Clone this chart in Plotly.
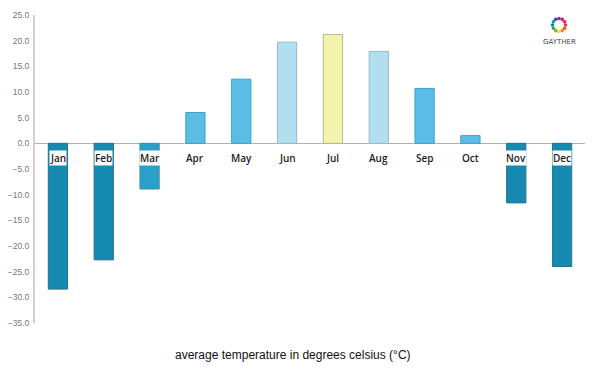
import math
import plotly.graph_objects as go

months = ["Jan", "Feb", "Mar", "Apr", "May", "Jun", "Jul", "Aug", "Sep", "Oct", "Nov", "Dec"]
temps = [-28.4, -22.7, -8.9, 6.0, 12.5, 19.7, 21.2, 17.9, 10.7, 1.5, -11.6, -24.0]
bar_colors = ["#1689b0", "#1689b0", "#2a9fc9", "#5bbde6", "#5bbde6", "#b2dff0",
              "#f2f5a9", "#b2dff0", "#5bbde6", "#5bbde6", "#1689b0", "#1689b0"]
line_colors = ["#2a6f8a", "#2a6f8a", "#3a8fb0", "#3aa0cc", "#3aa0cc", "#9ab8c8",
               "#b8b89a", "#9ab8c8", "#3aa0cc", "#3aa0cc", "#2a6f8a", "#2a6f8a"]
y_ticks = [25, 20, 15, 10, 5, 0, -5, -10, -15, -20, -25, -30, -35]
x_title = "average temperature in degrees celsius (°C)"

W, H = 600, 375
OFF = 8  # body margin of the html page
# desired plot area in screen pixels: x 35..585, y 15..323
sl, sr, st, sb = 35, 585, 15, 323
l, t = sl - OFF, st - OFF
r = W - (sr - OFF)
b = H - (sb - OFF)
pw, ph = W - l - r, H - t - b


def px_to_paper(px, py):
    # px, py in screen coordinates
    return (px - OFF - l) / pw, (H - b - (py - OFF)) / ph


fig = go.Figure()
fig.add_trace(go.Bar(
    x=months, y=temps,
    marker=dict(color=bar_colors, line=dict(color=line_colors, width=1)),
    width=0.42, hoverinfo="x+y",
))

annotations = []
for m, v in zip(months, temps):
    annotations.append(dict(
        x=m, y=0, xref="x", yref="y", text=m, showarrow=False,
        xanchor="center", yanchor="top", yshift=-7,
        font=dict(family="Open Sans", size=10, color="#222222", weight=600),
        bgcolor="white" if v < 0 else "rgba(0,0,0,0)",
        borderpad=0,
    ))

ax, ay = px_to_paper(293, 355)
annotations.append(dict(
    x=ax, y=ay, xref="paper", yref="paper", text=x_title, showarrow=False,
    xanchor="center", yanchor="middle",
    font=dict(family="Liberation Sans, Arial", size=12, color="#111111"),
))
gx, gy = px_to_paper(559, 42)
annotations.append(dict(
    x=gx, y=gy, xref="paper", yref="paper", text="GAYTHER", showarrow=False,
    xanchor="center", yanchor="middle",
    font=dict(family="DejaVu Sans", size=7, color="#444444"),
))

logo_cols = ["#e53935", "#f4511e", "#fb8c00", "#fdd835", "#7cb342", "#43a047",
             "#00897b", "#039be5", "#3949ab", "#8e24aa", "#d81b60", "#e91e63"]
cx, cy = 559, 25
shapes = []
for i, c in enumerate(logo_cols):
    a = 2 * math.pi * i / len(logo_cols)
    px = cx + 6.5 * math.cos(a)
    py = cy + 6.5 * math.sin(a)
    x0, y0 = px_to_paper(px - 1.8, py + 1.8)
    x1, y1 = px_to_paper(px + 1.8, py - 1.8)
    shapes.append(dict(type="circle", xref="paper", yref="paper", x0=x0, y0=y0, x1=x1, y1=y1,
                       fillcolor=c, line=dict(width=0)))

fig.update_layout(
    width=W, height=H,
    margin=dict(l=l, r=r, t=t, b=b, autoexpand=False),
    paper_bgcolor="white", plot_bgcolor="white",
    showlegend=False,
    annotations=annotations,
    shapes=shapes,
    xaxis=dict(showgrid=False, showticklabels=False, showline=False, zeroline=False,
               ticks="", range=[-0.5, 11.5], automargin=False),
    yaxis=dict(range=[-35, 25], tickvals=y_ticks, tickformat=".1f",
               showgrid=False, zeroline=True, zerolinecolor="#b0b0b0", zerolinewidth=1,
               showline=True, linecolor="#d0d0d0", linewidth=2,
               tickfont=dict(family="Liberation Sans, Arial", size=8.5, color="#777777"),
               ticks="", ticklabelstandoff=2, automargin=False),
)

fig.write_html("out.html")
